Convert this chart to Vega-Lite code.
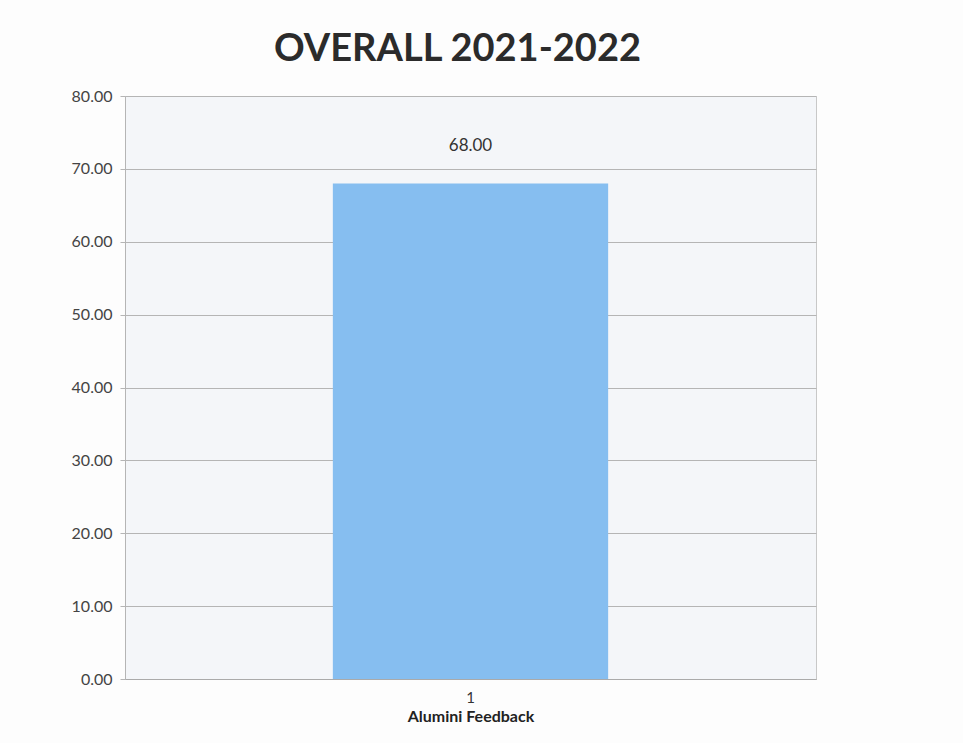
{
  "$schema": "https://vega.github.io/schema/vega-lite/v6.json",
  "autosize": "none",
  "width": 691,
  "height": 583,
  "padding": {"left": 125, "top": 96, "right": 147, "bottom": 64},
  "background": "#fdfdfd",
  "title": {
    "text": "OVERALL 2021-2022",
    "font": "Lato",
    "fontSize": 38,
    "fontWeight": "bold",
    "color": "#2b2b2b",
    "anchor": "middle",
    "offset": 19,
    "dx": -13
  },
  "config": {
    "view": {"fill": "#f4f6f9", "stroke": "#c8c8c8", "strokeWidth": 1},
    "font": "Lato"
  },
  "data": {"values": [{"category": "1", "value": 68.0}]},
  "encoding": {
    "x": {
      "field": "category",
      "type": "nominal",
      "scale": {"paddingInner": 0, "paddingOuter": 0.755},
      "axis": {
        "title": "Alumini Feedback",
        "titleFont": "Lato",
        "titleFontSize": 16,
        "titleFontWeight": "bold",
        "titleColor": "#222",
        "titlePadding": 3,
        "labelAngle": 0,
        "labelFontSize": 15,
        "labelColor": "#333",
        "labelPadding": 11,
        "ticks": false,
        "domainColor": "#aaaaaa",
        "grid": false
      }
    },
    "y": {
      "field": "value",
      "type": "quantitative",
      "scale": {"domain": [0, 80]},
      "axis": {
        "title": null,
        "values": [0, 10, 20, 30, 40, 50, 60, 70, 80],
        "format": ".2f",
        "labelFontSize": 16,
        "labelColor": "#444",
        "labelPadding": 8,
        "tickSize": 5,
        "tickColor": "#b5b5b5",
        "gridColor": "#b5b5b5",
        "domainColor": "#b5b5b5"
      }
    }
  },
  "layer": [
    {"mark": {"type": "bar", "color": "#86bef0"}},
    {
      "mark": {"type": "text", "baseline": "bottom", "dy": -28, "fontSize": 17, "color": "#333"},
      "encoding": {"text": {"field": "value", "type": "quantitative", "format": ".2f"}}
    }
  ]
}
